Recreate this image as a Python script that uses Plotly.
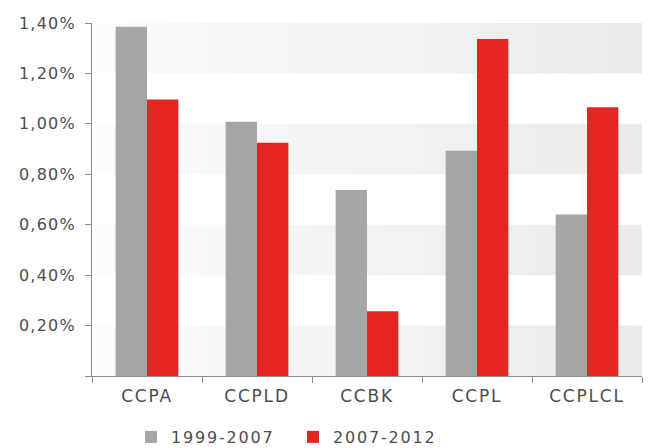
import plotly.graph_objects as go

categories = ["CCPA", "CCPLD", "CCBK", "CCPL", "CCPLCL"]
series_names = ["1999-2007", "2007-2012"]
values_1999_2007 = [1.385, 1.008, 0.738, 0.893, 0.641]
values_2007_2012 = [1.097, 0.925, 0.257, 1.337, 1.066]
y_ticks = [0, 0.2, 0.4, 0.6, 0.8, 1.0, 1.2, 1.4]
y_tick_labels = ["", "0,20%", "0,40%", "0,60%", "0,80%", "1,00%", "1,20%", "1,40%"]
band_ranges = [(0, 0.2), (0.4, 0.6), (0.8, 1.0), (1.2, 1.4)]

GREY = "#a6a6a6"
RED = "#e42522"
TEXT = "#4d4d4d"
FONT = "DejaVu Sans"

fig = go.Figure()
fig.add_bar(x=categories, y=values_1999_2007, name=series_names[0],
            marker=dict(color=GREY, line=dict(width=0)))
fig.add_bar(x=categories, y=values_2007_2012, name=series_names[1],
            marker=dict(color=RED, line=dict(width=0)))

# gradient bands (light at left, darker at right)
shapes = []
n = 30
c0 = (252, 252, 252)
c1 = (233, 234, 234)
for (y0, y1) in band_ranges:
    for i in range(n):
        t = (i + 0.5) / n
        col = tuple(round(c0[k] + (c1[k] - c0[k]) * t) for k in range(3))
        shapes.append(dict(type="rect", xref="paper", yref="y",
                           x0=i / n, x1=min((i + 1) / n + 0.002, 1), y0=y0, y1=y1,
                           fillcolor="rgb(%d,%d,%d)" % col, line=dict(width=0),
                           layer="below"))

fig.update_layout(
    width=652, height=448,
    margin=dict(l=84, r=18, t=15, b=80, autoexpand=False),
    paper_bgcolor="white", plot_bgcolor="white",
    barmode="group", bargap=0.43, bargroupgap=0,
    font=dict(family=FONT, size=15, color=TEXT),
    shapes=shapes,
    showlegend=True,
    legend=dict(orientation="h", xref="container", x=123 / 652, xanchor="left",
                yref="container", y=(448 - 429) / 448, yanchor="middle",
                entrywidth=117, entrywidthmode="pixels",
                font=dict(family=FONT, size=16, color=TEXT), itemwidth=30,
                traceorder="normal"),
    xaxis=dict(showline=True, linecolor="#8c8c8c", linewidth=1,
               ticks="outside", tickson="boundaries", ticklen=6, tickcolor="#8c8c8c",
               tickfont=dict(family=FONT, size=17, color=TEXT),
               showgrid=False, zeroline=False, ticklabelstandoff=5, automargin=False),
    yaxis=dict(range=[0, 1.4], tickmode="array", tickvals=y_ticks, ticktext=y_tick_labels,
               showline=True, linecolor="#8c8c8c", linewidth=1,
               ticks="outside", ticklen=6, tickcolor="#8c8c8c",
               tickfont=dict(family=FONT, size=16, color=TEXT),
               showgrid=False, zeroline=False, ticklabelstandoff=6, automargin=False),
)

post = """
var s = document.createElement('style');
s.innerHTML = '.ytick text { letter-spacing: 1.2px; } .xtick text, .legendtext { letter-spacing: 1.8px; }';
document.head.appendChild(s);
"""
fig.write_html("out.html", post_script=post)
